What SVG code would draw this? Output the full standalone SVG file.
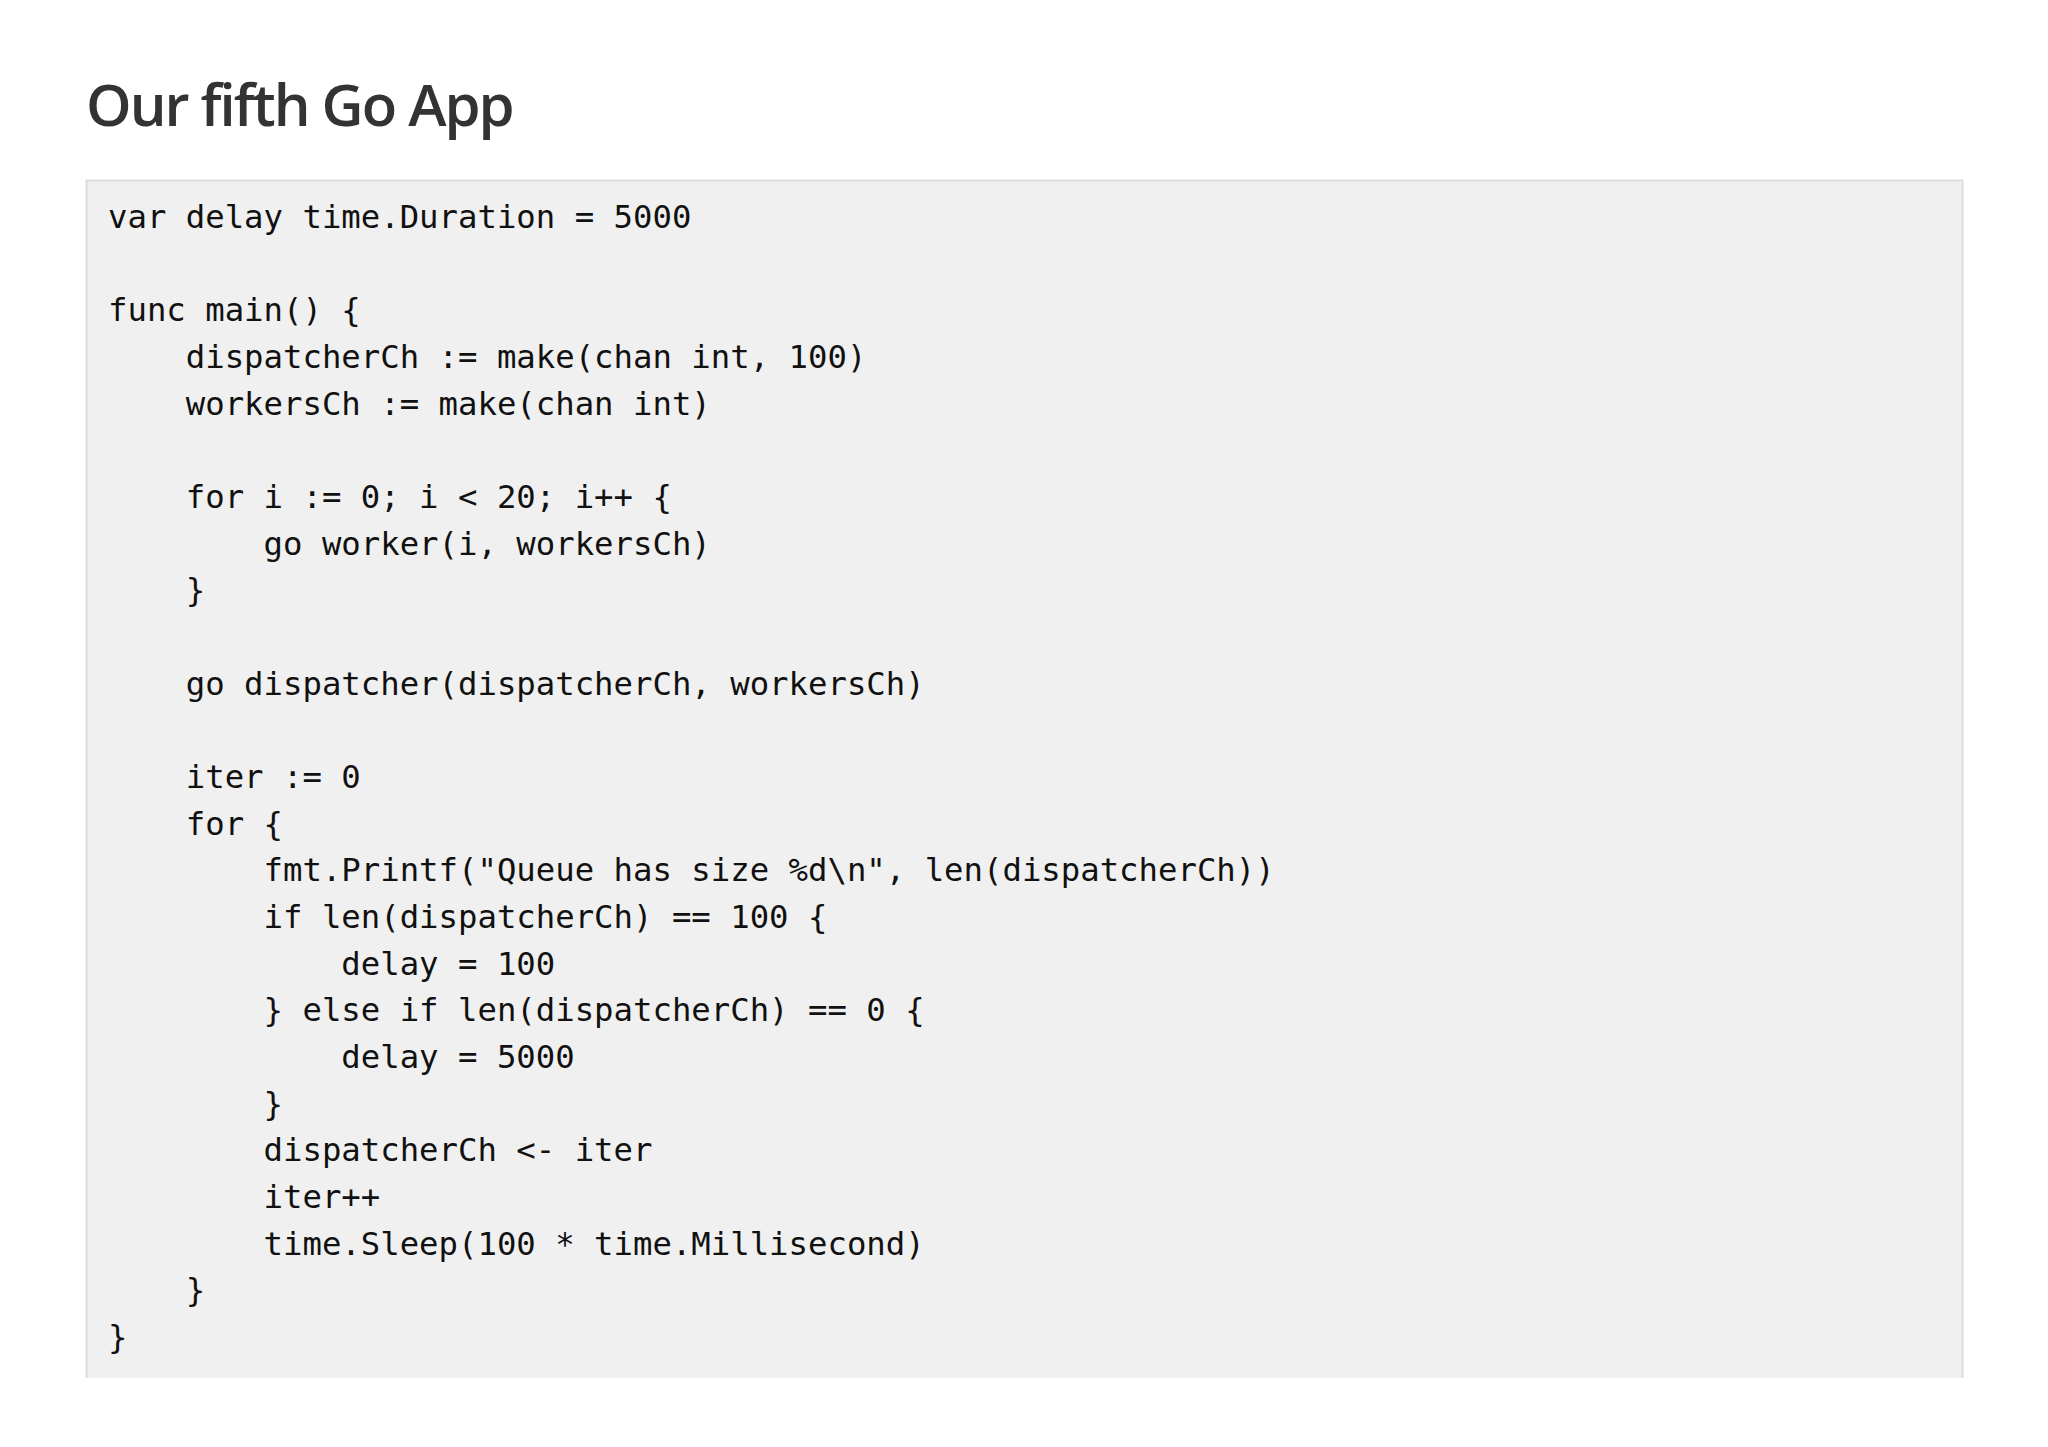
<svg xmlns="http://www.w3.org/2000/svg" width="2048" height="1447" viewBox="0 0 2048 1447">
<style>
.t{font-family:"Open Sans","Noto Sans",sans-serif;font-weight:600;font-size:58px;fill:#333}
.c{font-family:"DejaVu Sans Mono","Liberation Mono",monospace;font-size:32.3px;fill:#111;white-space:pre}
</style>
<rect width="2048" height="1447" fill="#fff"/>
<g id="title"><text class="t" x="86" y="126" letter-spacing="-2">Our fifth Go App</text></g>
<g id="code">
<path d="M86.5 1378V180.5H1962.5V1378" fill="#f0f0f0" stroke="#ddd" stroke-width="2"/>
<text class="c" xml:space="preserve"><tspan x="108" y="228">var delay time.Duration = 5000</tspan><tspan x="108" y="321.3">func main() {</tspan><tspan x="108" y="368">    dispatcherCh := make(chan int, 100)</tspan><tspan x="108" y="414.7">    workersCh := make(chan int)</tspan><tspan x="108" y="508">    for i := 0; i &lt; 20; i++ {</tspan><tspan x="108" y="554.7">        go worker(i, workersCh)</tspan><tspan x="108" y="601.3">    }</tspan><tspan x="108" y="694.7">    go dispatcher(dispatcherCh, workersCh)</tspan><tspan x="108" y="788">    iter := 0</tspan><tspan x="108" y="834.7">    for {</tspan><tspan x="108" y="881.3">        fmt.Printf("Queue has size %d\n", len(dispatcherCh))</tspan><tspan x="108" y="928">        if len(dispatcherCh) == 100 {</tspan><tspan x="108" y="974.7">            delay = 100</tspan><tspan x="108" y="1021.3">        } else if len(dispatcherCh) == 0 {</tspan><tspan x="108" y="1068">            delay = 5000</tspan><tspan x="108" y="1114.7">        }</tspan><tspan x="108" y="1161.3">        dispatcherCh &lt;- iter</tspan><tspan x="108" y="1208">        iter++</tspan><tspan x="108" y="1254.7">        time.Sleep(100 * time.Millisecond)</tspan><tspan x="108" y="1301.3">    }</tspan><tspan x="108" y="1348">}</tspan></text>
</g>
</svg>
